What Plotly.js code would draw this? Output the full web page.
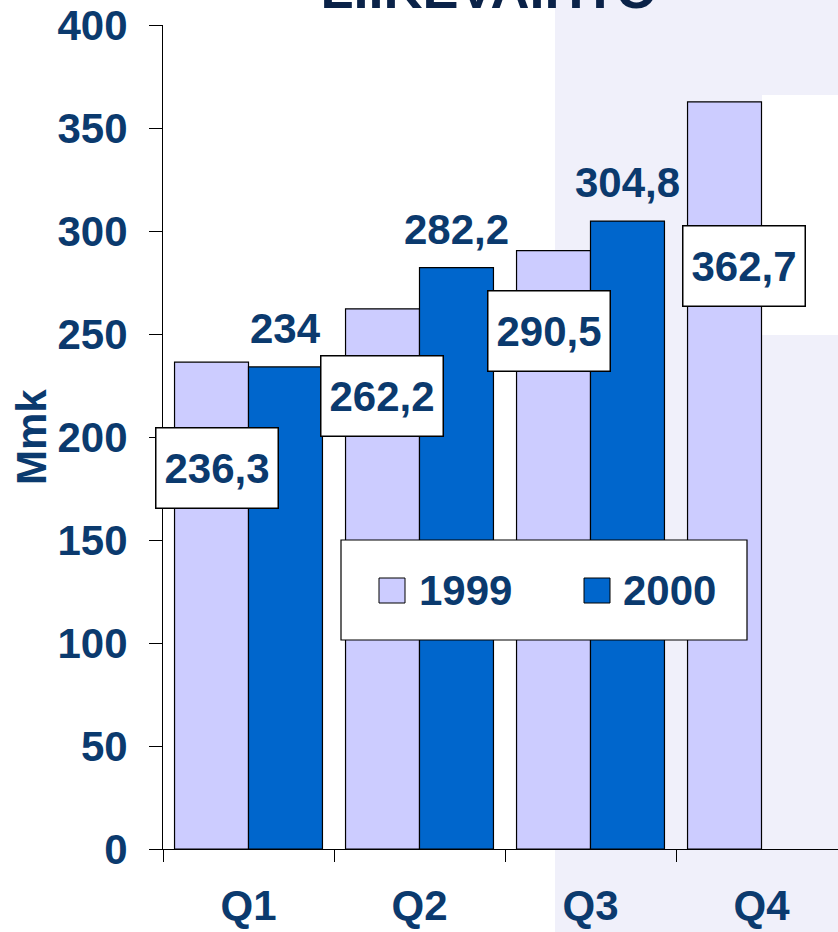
<!DOCTYPE html>
<html>
<head>
<meta charset="utf-8">
<script src="https://cdn.plot.ly/plotly-3.0.1.min.js"></script>
<style>html,body{margin:0;padding:0;background:#fff;overflow:hidden}</style>
</head>
<body>
<div id="chart" style="width:838px;height:932px"></div>
<script>
// ---- data ----
const categories = ['Q1', 'Q2', 'Q3', 'Q4'];
const series1999 = [236.3, 262.2, 290.5, 362.7];
const series2000 = [234, 282.2, 304.8, null];
const seriesNames = ['1999', '2000'];
const yTicks = [0, 50, 100, 150, 200, 250, 300, 350, 400];
const yTitle = 'Mmk';
const chartTitle = 'LIIKEVAIHTO';

// ---- label placement (manual boxes as in the original) ----
const box1999X = [-0.187, 0.781, 1.760, 2.895];
const box1999Y = [185, 220, 251.5, 283];

const navy = '#0b3a6e';
const fontFam = '"Liberation Sans", Arial, sans-serif';
const FS = 42;
const fmt = v => String(v).replace('.', ',');

const traces = [
  { type: 'bar', name: seriesNames[0], x: categories, y: series1999,
    marker: { color: '#CCCCFF', line: { color: '#000', width: 1.2 } }, hoverinfo: 'none' },
  { type: 'bar', name: seriesNames[1], x: categories, y: series2000,
    marker: { color: '#0066CC', line: { color: '#000', width: 1.2 } }, hoverinfo: 'none' }
];

const W = 675, H = 824, L = 163, T = 25;
const px = p => (p - L) / W;
const py = p => (T + H - p) / H;

const annotations = [];
series1999.forEach((v, i) => {
  annotations.push({ x: box1999X[i], y: box1999Y[i], xref: 'x', yref: 'y',
    text: '<b>' + fmt(v) + '</b>', showarrow: false,
    font: { family: fontFam, size: FS, color: navy },
    bgcolor: '#fff', bordercolor: '#000', borderwidth: 1.5, borderpad: 2,
    width: 117, height: 75, xanchor: 'center', yanchor: 'middle' });
});
series2000.forEach((v, i) => {
  if (v === null) return;
  annotations.push({ x: i + 0.216, y: v, xref: 'x', yref: 'y',
    text: '<b>' + fmt(v) + '</b>', showarrow: false,
    font: { family: fontFam, size: FS, color: navy },
    xanchor: 'center', yanchor: 'bottom', yshift: 13 });
});
// y-axis title
annotations.push({ x: px(31), y: 0.5, xref: 'paper', yref: 'paper', text: '<b>' + yTitle + '</b>',
  textangle: -90, showarrow: false, xanchor: 'center', yanchor: 'middle',
  font: { family: fontFam, size: FS, color: navy } });

const legendItems = [
  { sw: [379, 405], tx: 417, color: '#CCCCFF', name: seriesNames[0] },
  { sw: [584, 610], tx: 621, color: '#0066CC', name: seriesNames[1] }
];
legendItems.forEach(it => {
  annotations.push({ x: px(it.tx), y: py(590), xref: 'paper', yref: 'paper',
    text: '<b>' + it.name + '</b>', showarrow: false, xanchor: 'left', yanchor: 'middle',
    font: { family: fontFam, size: FS, color: navy } });
});

const shapes = [
  // faint background decoration
  { type: 'rect', xref: 'paper', yref: 'paper', x0: px(555), x1: px(838), y0: py(932), y1: py(0),
    fillcolor: '#f0f0fa', line: { width: 0 }, layer: 'below' },
  { type: 'rect', xref: 'paper', yref: 'paper', x0: px(762), x1: px(838), y0: py(335), y1: py(95),
    fillcolor: '#ffffff', line: { width: 0 }, layer: 'below' },
  // legend box
  { type: 'rect', xref: 'paper', yref: 'paper', x0: px(341), x1: px(747), y0: py(640), y1: py(540),
    fillcolor: '#fff', line: { color: '#000', width: 1.2 } }
];
legendItems.forEach(it => {
  shapes.push({ type: 'rect', xref: 'paper', yref: 'paper', x0: px(it.sw[0]), x1: px(it.sw[1]),
    y0: py(603), y1: py(578), fillcolor: it.color, line: { color: '#000', width: 1 } });
});

const layout = {
  width: 838, height: 932,
  margin: { l: L, r: 0, t: T, b: 932 - T - H },
  paper_bgcolor: '#fff', plot_bgcolor: 'rgba(0,0,0,0)',
  font: { family: fontFam, color: navy },
  title: { text: '<b>' + chartTitle + '</b>', x: 489 / 838, xanchor: 'center', xref: 'container',
    y: 1 - 8 / 932, yanchor: 'bottom', yref: 'container',
    font: { family: fontFam, size: 54, color: '#0a2248' } },
  showlegend: false,
  barmode: 'group', bargap: 0.135, bargroupgap: 0,
  xaxis: { type: 'category', range: [-0.5, -0.5 + W / 171], showgrid: false,
    showline: true, linecolor: '#000', linewidth: 1,
    ticks: 'outside', tickson: 'boundaries', ticklen: 12, tickcolor: '#000', tickwidth: 1,
    ticklabelstandoff: 20, automargin: false,
    tickfont: { family: fontFam, size: FS, color: navy, weight: 'bold' }, fixedrange: true },
  yaxis: { range: [0, 400], tickvals: yTicks, showgrid: false, zeroline: false,
    showline: true, linecolor: '#000', linewidth: 1,
    ticks: 'outside', ticklen: 13, tickcolor: '#000', tickwidth: 1,
    ticklabelstandoff: 13, automargin: false,
    tickfont: { family: fontFam, size: FS, color: navy, weight: 'bold' },
    fixedrange: true },
  annotations: annotations,
  shapes: shapes
};

Plotly.newPlot('chart', traces, layout, { displayModeBar: false, staticPlot: true });
</script>
</body>
</html>
